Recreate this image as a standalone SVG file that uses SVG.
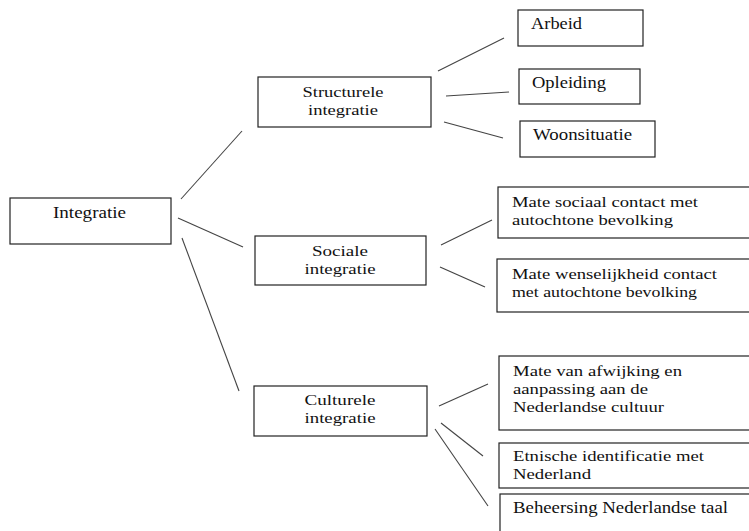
<svg xmlns="http://www.w3.org/2000/svg" width="749" height="531" viewBox="0 0 749 531">
<style>
.box{fill:#fff;stroke:#222;stroke-width:1.2}
.ln{stroke:#444;stroke-width:1.1;fill:none}
</style>
<rect width="749" height="531" fill="#fff"/>
<g id="connectors">
<line class="ln" x1="181" y1="199" x2="242" y2="131"/>
<line class="ln" x1="178" y1="218" x2="243" y2="247"/>
<line class="ln" x1="182" y1="238" x2="239" y2="391"/>
<line class="ln" x1="438" y1="71" x2="504" y2="38"/>
<line class="ln" x1="446" y1="96" x2="509" y2="92"/>
<line class="ln" x1="444" y1="122" x2="503" y2="138"/>
<line class="ln" x1="441" y1="245" x2="492" y2="220"/>
<line class="ln" x1="440" y1="267" x2="485" y2="287"/>
<line class="ln" x1="439" y1="406" x2="488" y2="384"/>
<line class="ln" x1="441" y1="423" x2="483" y2="456"/>
<line class="ln" x1="435" y1="429" x2="488" y2="506"/>
</g>
<g id="integratie">
<rect class="box" x="10" y="198" width="161" height="46"/>
<text x="89.5" y="218" font-family="Liberation Serif" font-size="16" fill="#111" text-anchor="middle" textLength="73" lengthAdjust="spacingAndGlyphs">Integratie</text>
</g>
<g id="structurele">
<rect class="box" x="258" y="77" width="173" height="50"/>
<text x="343" y="97" font-family="Liberation Serif" font-size="15" fill="#111" text-anchor="middle" textLength="81" lengthAdjust="spacingAndGlyphs">Structurele</text>
<text x="343" y="115" font-family="Liberation Serif" font-size="15" fill="#111" text-anchor="middle" textLength="70" lengthAdjust="spacingAndGlyphs">integratie</text>
</g>
<g id="sociale">
<rect class="box" x="255" y="236" width="171" height="49"/>
<text x="340" y="256" font-family="Liberation Serif" font-size="15" fill="#111" text-anchor="middle" textLength="56" lengthAdjust="spacingAndGlyphs">Sociale</text>
<text x="340" y="274" font-family="Liberation Serif" font-size="15" fill="#111" text-anchor="middle" textLength="71" lengthAdjust="spacingAndGlyphs">integratie</text>
</g>
<g id="culturele">
<rect class="box" x="254" y="386" width="173" height="50"/>
<text x="340" y="405" font-family="Liberation Serif" font-size="15" fill="#111" text-anchor="middle" textLength="71" lengthAdjust="spacingAndGlyphs">Culturele</text>
<text x="340" y="423" font-family="Liberation Serif" font-size="15" fill="#111" text-anchor="middle" textLength="71" lengthAdjust="spacingAndGlyphs">integratie</text>
</g>
<g id="arbeid">
<rect class="box" x="518" y="10" width="125" height="36"/>
<text x="531" y="29" font-family="Liberation Serif" font-size="16" fill="#111" textLength="51" lengthAdjust="spacingAndGlyphs">Arbeid</text>
</g>
<g id="opleiding">
<rect class="box" x="519" y="69" width="121" height="35"/>
<text x="532" y="88" font-family="Liberation Serif" font-size="16" fill="#111" textLength="74" lengthAdjust="spacingAndGlyphs">Opleiding</text>
</g>
<g id="woonsituatie">
<rect class="box" x="520" y="121" width="135" height="36"/>
<text x="533" y="140" font-family="Liberation Serif" font-size="16" fill="#111" textLength="99" lengthAdjust="spacingAndGlyphs">Woonsituatie</text>
</g>
<g id="sociaal-contact">
<rect class="box" x="498" y="187" width="270" height="51"/>
<text x="512" y="207" font-family="Liberation Serif" font-size="15" fill="#111" textLength="186" lengthAdjust="spacingAndGlyphs">Mate sociaal contact met</text>
<text x="512" y="225" font-family="Liberation Serif" font-size="15" fill="#111" textLength="161" lengthAdjust="spacingAndGlyphs">autochtone bevolking</text>
</g>
<g id="wenselijkheid">
<rect class="box" x="497" y="259" width="270" height="53"/>
<text x="512" y="279" font-family="Liberation Serif" font-size="15" fill="#111" textLength="205" lengthAdjust="spacingAndGlyphs">Mate wenselijkheid contact</text>
<text x="512" y="297" font-family="Liberation Serif" font-size="15" fill="#111" textLength="185" lengthAdjust="spacingAndGlyphs">met autochtone bevolking</text>
</g>
<g id="afwijking">
<rect class="box" x="499" y="356" width="270" height="74"/>
<text x="513" y="376" font-family="Liberation Serif" font-size="15" fill="#111" textLength="169" lengthAdjust="spacingAndGlyphs">Mate van afwijking en</text>
<text x="513" y="394" font-family="Liberation Serif" font-size="15" fill="#111" textLength="135" lengthAdjust="spacingAndGlyphs">aanpassing aan de</text>
<text x="513" y="412" font-family="Liberation Serif" font-size="15" fill="#111" textLength="151" lengthAdjust="spacingAndGlyphs">Nederlandse cultuur</text>
</g>
<g id="etnische">
<rect class="box" x="499" y="443" width="270" height="45"/>
<text x="513" y="461" font-family="Liberation Serif" font-size="15" fill="#111" textLength="191" lengthAdjust="spacingAndGlyphs">Etnische identificatie met</text>
<text x="513" y="479" font-family="Liberation Serif" font-size="15" fill="#111" textLength="78" lengthAdjust="spacingAndGlyphs">Nederland</text>
</g>
<g id="beheersing">
<rect class="box" x="500" y="494" width="270" height="60"/>
<text x="513" y="513" font-family="Liberation Serif" font-size="16" fill="#111" textLength="215" lengthAdjust="spacingAndGlyphs">Beheersing Nederlandse taal</text>
</g>
</svg>
